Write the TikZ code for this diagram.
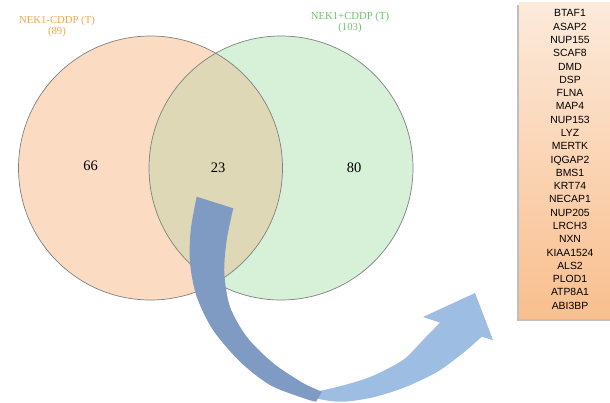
\documentclass[tikz,border=0pt]{standalone}
\usepackage{fontspec}
\setmainfont{Liberation Serif}
\newfontfamily\arialf{Liberation Sans}
\usetikzlibrary{shadows}
\definecolor{peach}{HTML}{FBDCC3}
\definecolor{mint}{HTML}{D6F1D8}
\definecolor{overlapc}{HTML}{DED8B6}
\definecolor{lblorange}{HTML}{F5A54A}
\definecolor{lblgreen}{HTML}{6CC46C}
\definecolor{arrowdark}{HTML}{7F9BC3}
\definecolor{arrowlight}{HTML}{9DBDE2}
\definecolor{boxtop}{HTML}{FCEADB}
\definecolor{boxbot}{HTML}{F9BF8E}
\begin{document}
\begin{tikzpicture}[x=1pt,y=-1pt,
  venn/.style={draw=black!50, line width=0.7pt},
  setlabel/.style={font=\fontsize{10.7}{11}\selectfont, align=center, inner sep=0pt},
  count/.style={font=\fontsize{14.5}{16}\selectfont, inner sep=0pt},
  genebox/.style={font=\arialf\fontsize{10.4}{13.29}\selectfont, align=center, inner sep=0pt}]
\useasboundingbox (0,0) rectangle (610,402);
\fill[white] (0,0) rectangle (610,402);
% Venn
\coordinate (cL) at (150.5,168);
\coordinate (cR) at (281,168);
\fill[peach] (cL) circle[radius=132pt];
\fill[mint] (cR) circle[radius=132pt];
\begin{scope}
  \clip (cL) circle[radius=132pt];
  \fill[overlapc] (cR) circle[radius=132pt];
\end{scope}
\draw[venn] (cL) circle[radius=132pt];
\draw[venn] (cR) circle[radius=132pt];
\node[setlabel, text=lblorange] (tL) at (57,26.5) {NEK1-CDDP (T)\\(89)};
\node[setlabel, text=lblgreen] (tR) at (350,22) {NEK1+CDDP (T)\\(103)};
\node[count] (n66) at (90.7,166) {66};
\node[count] (n23) at (218,168) {23};
\node[count] (n80) at (354,168) {80};
% gene box
\fill[black!25] (517,4.5) rectangle (615,320.5);
\shade[top color=boxtop, bottom color=boxbot] (519,2.5) rectangle (615,318);
\node[genebox] (genes) at (570,159.5) {BTAF1\\ASAP2\\NUP155\\SCAF8\\DMD\\DSP\\FLNA\\MAP4\\NUP153\\LYZ\\MERTK\\IQGAP2\\BMS1\\KRT74\\NECAP1\\NUP205\\LRCH3\\NXN\\KIAA1524\\ALS2\\PLOD1\\ATP8A1\\ABI3BP};
% curved arrow
\fill[arrowlight] plot[smooth] coordinates {(300,395) (337,401.7) (370,398) (403,388) (437,372) (463,353) (481.7,336.7)}
  -- (493,340) -- (475,293) -- (423,317) --
  plot[smooth] coordinates {(440,322.6) (423,340) (403,360) (370,377) (337,387) (300,395)} -- cycle;
\fill[arrowdark] plot[smooth] coordinates {(196.7,196.7) (190.7,230) (190,263) (196.7,296.7) (213,330) (240,361.7) (270,385) (303,398) (316,401.7)}
  -- plot[smooth] coordinates {(322,391.7) (303,383) (273,363) (246.7,336.7) (230,306.7) (224.3,273) (226.7,240) (233.3,208.3)} -- cycle;
\end{tikzpicture}
\end{document}
